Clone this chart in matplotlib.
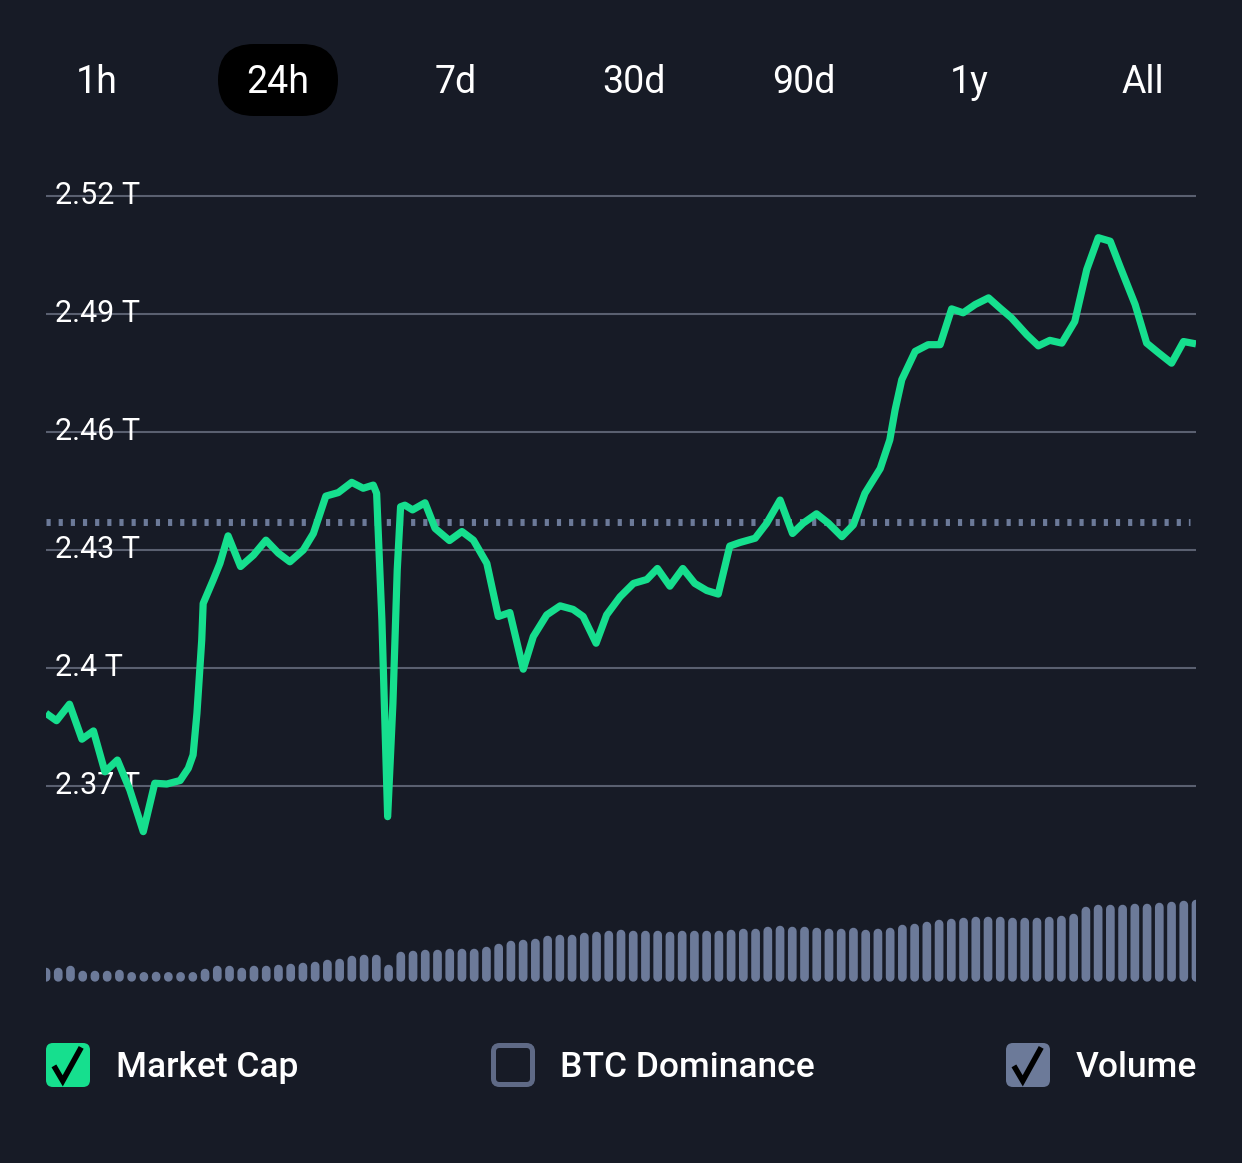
import numpy as np
import matplotlib.pyplot as plt
import matplotlib.transforms as mtransforms
from matplotlib.patches import FancyBboxPatch

plt.rcParams['font.family'] = ['Roboto', 'DejaVu Sans']
plt.rcParams['path.simplify'] = False

BG = '#171b26'
GREEN = '#16df8e'
SLATE = '#6c7a99'
GRID = '#5a6070'

# Time range selector
tabs = ["1h", "24h", "7d", "30d", "90d", "1y", "All"]
active_tab = "24h"

# Market cap over the last 24h (hours ago -> trillions USD)
hours = [0.00, 0.22, 0.49, 0.75, 0.99, 1.23, 1.49, 1.75, 2.03, 2.27,
         2.52, 2.80, 2.97, 3.07, 3.15, 3.25, 3.28, 3.49, 3.63, 3.80,
         4.06, 4.33, 4.59, 4.85, 5.09, 5.37, 5.58, 5.84, 6.10, 6.38,
         6.62, 6.83, 6.90, 7.01, 7.13, 7.24, 7.33, 7.40, 7.49, 7.65,
         7.91, 8.12, 8.42, 8.68, 8.92, 9.20, 9.44, 9.68, 9.96, 10.17,
         10.45, 10.73, 11.00, 11.21, 11.48, 11.70, 11.98, 12.26, 12.54, 12.76,
         13.02, 13.29, 13.54, 13.79, 14.03, 14.27, 14.48, 14.80, 15.04, 15.32,
         15.58, 15.80, 16.08, 16.33, 16.61, 16.85, 17.09, 17.41, 17.61, 17.72,
         17.86, 18.14, 18.41, 18.66, 18.90, 19.14, 19.39, 19.67, 19.91, 20.15,
         20.47, 20.71, 20.95, 21.20, 21.47, 21.72, 21.96, 22.21, 22.41, 22.73,
         22.97, 23.21, 23.49, 23.74, 24.00]
market_cap = [2.3885, 2.3866, 2.3908, 2.3819, 2.3840, 2.3736, 2.3766, 2.3690, 2.3584, 2.3707,
              2.3705, 2.3714, 2.3745, 2.3779, 2.3885, 2.4071, 2.4164, 2.4224, 2.4266, 2.4336,
              2.4258, 2.4287, 2.4325, 2.4292, 2.4270, 2.4300, 2.4342, 2.4437, 2.4446, 2.4472,
              2.4457, 2.4465, 2.4444, 2.4122, 2.3622, 2.3910, 2.4249, 2.4410, 2.4414, 2.4402,
              2.4420, 2.4355, 2.4324, 2.4347, 2.4325, 2.4266, 2.4131, 2.4141, 2.3997, 2.4080,
              2.4135, 2.4158, 2.4149, 2.4131, 2.4063, 2.4135, 2.4181, 2.4215, 2.4225, 2.4253,
              2.4208, 2.4253, 2.4215, 2.4197, 2.4188, 2.4310, 2.4319, 2.4330, 2.4368, 2.4427,
              2.4342, 2.4368, 2.4392, 2.4368, 2.4334, 2.4364, 2.4444, 2.4507, 2.4580, 2.4656,
              2.4733, 2.4805, 2.4822, 2.4822, 2.4913, 2.4903, 2.4924, 2.4941, 2.4915, 2.4890,
              2.4847, 2.4819, 2.4833, 2.4826, 2.4881, 2.5013, 2.5094, 2.5085, 2.5022, 2.4924,
              2.4826, 2.4802, 2.4775, 2.4830, 2.4824]
open_cap = 2.4371
y_ticks = [2.52, 2.49, 2.46, 2.43, 2.40, 2.37]

# Volume (relative units), evenly spaced over the 24h window
volume = [14, 14, 16, 11, 11, 11, 12, 9, 9, 10,
          9, 8, 8, 13, 16, 16, 14, 16, 16, 17,
          18, 19, 20, 22, 23, 26, 27, 27, 17, 30,
          31, 32, 32, 33, 33, 33, 35, 38, 41, 42,
          43, 46, 47, 47, 49, 50, 51, 52, 51, 51,
          51, 50, 51, 51, 51, 51, 52, 53, 53, 55,
          56, 55, 55, 54, 53, 53, 54, 52, 53, 54,
          57, 58, 60, 62, 63, 64, 65, 65, 65, 64,
          64, 64, 65, 66, 68, 75, 77, 77, 77, 78,
          78, 79, 80, 81, 82]

legend_items = ["Market Cap", "BTC Dominance", "Volume"]
legend_checked = [True, False, True]

W, H = 1242, 1163
fig = plt.figure(figsize=(W / 100, H / 100), dpi=100, facecolor=BG)


def frac(x0, y0, x1, y1):
    return [x0 / W, 1 - y1 / H, (x1 - x0) / W, (y1 - y0) / H]


def px_to_val(y):
    return 2.52 - (y - 196) / 118 * 0.03


# overlay in pixel coordinates for tabs and legend
ov = fig.add_axes([0, 0, 1, 1])
ov.set_xlim(0, W)
ov.set_ylim(H, 0)
ov.axis('off')

tab_x = [97, 278, 456, 634, 804, 969, 1143]
for t, cx in zip(tabs, tab_x):
    if t == active_tab:
        ov.add_patch(FancyBboxPatch((cx - 60, 44), 120, 72,
                                    boxstyle="round,pad=0,rounding_size=36",
                                    fc='black', ec='none'))
    ov.text(cx, 93, t, ha='center', va='baseline', fontsize=27, color='white')

# main chart
ax = fig.add_axes(frac(46, 150, 1196, 860))
ax.set_facecolor('none')
ax.set_xlim(0, 24)
ax.set_ylim(px_to_val(860), px_to_val(150))
ax.axis('off')

lbl_trans = mtransforms.offset_copy(
    mtransforms.blended_transform_factory(ax.transAxes, ax.transData),
    fig=fig, x=0, y=-8, units='dots')
for v in y_ticks:
    ax.axhline(v, color=GRID, lw=1.5, zorder=1)
    ax.text(0.008, v, f"{v:g} T", transform=lbl_trans, fontsize=22,
            color='white', va='baseline', ha='left', zorder=2)

ax.axhline(open_cap, xmin=0, xmax=0.995, color=SLATE, lw=5,
           linestyle=(0, (0.6, 1.15)), dash_capstyle='butt', zorder=3)
ax.plot(hours, market_cap, color=GREEN, lw=5.2, solid_joinstyle='round',
        solid_capstyle='butt', zorder=4)

# volume bars (rounded pills)
axv = fig.add_axes(frac(46, 880, 1196, 981.7))
axv.set_facecolor('none')
axv.axis('off')
axv.set_xlim(0, 24)
axv.set_ylim(0, 101.7)
vol = np.array(volume, dtype=float)
vx = np.linspace(0, 24, len(vol))
bar_px = 8.7
r = bar_px / 2
bars = axv.vlines(vx, r, np.maximum(vol - r, r + 1.0), colors=SLATE,
                  lw=bar_px * 72 / 100, capstyle='round')
bars.set_snap(False)

# legend
box_x = [46, 491, 1006]
text_x = [116, 560, 1076]
box_fc = [GREEN, BG, SLATE]
for name, checked, bx, tx, fc in zip(legend_items, legend_checked, box_x, text_x, box_fc):
    if checked:
        ov.add_patch(FancyBboxPatch((bx, 1043), 44, 44,
                                    boxstyle="round,pad=0,rounding_size=7",
                                    fc=fc, ec='none'))
        chk = np.array([(0.18, 0.52), (0.38, 0.86), (0.80, 0.10)])
        ov.plot(bx + chk[:, 0] * 44, 1043 + chk[:, 1] * 44, color='black',
                lw=4, solid_joinstyle='miter', solid_capstyle='butt')
    else:
        ov.add_patch(FancyBboxPatch((bx + 2.5, 1045.5), 39, 39,
                                    boxstyle="round,pad=0,rounding_size=6",
                                    fc=BG, ec='#5f6a86', lw=3.6))
    ov.text(tx, 1077, name, ha='left', va='baseline', fontsize=25.5,
            color='white', fontweight='medium')

fig.savefig('out.png', dpi=100, facecolor=BG)
